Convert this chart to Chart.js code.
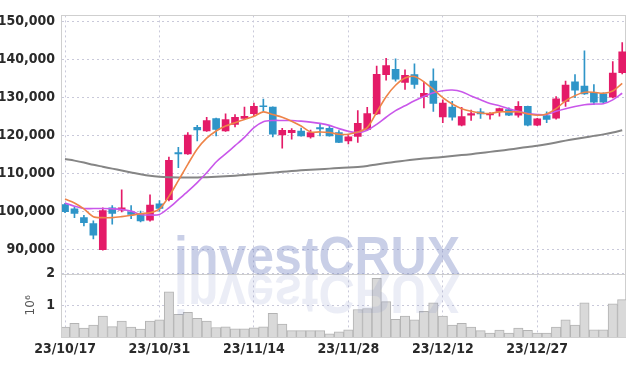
<!DOCTYPE html>
<html>
<head>
<meta charset="utf-8">
<script src="https://cdn.jsdelivr.net/npm/chart.js@4.4.1/dist/chart.umd.min.js"></script>
<style>
  html, body { margin: 0; padding: 0; background: #fff; }
</style>
</head>
<body>
<canvas id="myChart" width="634" height="366"></canvas>
<script>
// data (trading day index 0..59, 23/10/17 .. 24/01/11)
const tickIdx = [0, 10, 20, 30, 40, 50];
const tickLabels = ['23/10/17', '23/10/31', '23/11/14', '23/11/28', '23/12/12', '23/12/27'];
const priceTicks = [90000, 100000, 110000, 120000, 130000, 140000, 150000];
const volumeTicks = [1, 2]; // millions

const opens = [101850, 100750, 98420, 96870, 90000, 101000, 100400, 99970, 99270, 97730,
    102030, 103140, 115520, 115180, 122150, 121190, 124470, 121190, 122920, 124470,
    125760, 127820, 127480, 120160, 120770, 121190, 119650, 122070, 121890, 120770,
    118610, 119740, 121630, 125680, 135990, 137360, 133930, 136000, 130220, 134270,
    124910, 127480, 122740, 125330, 126200, 125420, 126350, 126790, 125330, 127640,
    122740, 125240, 124550, 128930, 134090, 132980, 131250, 130920, 130060, 136510];
const highs = [102200, 101100, 99030, 97560, 101000, 101600, 105720, 101600, 100140, 104430,
    102880, 114330, 116910, 120770, 122660, 124800, 124600, 125680, 125500, 127480,
    128520, 129540, 127500, 121890, 121800, 121980, 121400, 122920, 122460, 121300,
    120000, 126530, 127380, 138220, 140280, 140110, 137280, 138830, 134090, 137540,
    129380, 129000, 127380, 126700, 127100, 126000, 127200, 127300, 128930, 127700,
    124500, 126200, 130230, 134270, 136000, 142260, 133410, 131200, 139430, 144400];
const lows = [99700, 98420, 96270, 92820, 89900, 96690, 99900, 98160, 97300, 97500,
    100140, 102800, 111570, 115000, 118610, 121100, 119900, 121100, 122230, 124200,
    125060, 126350, 119650, 116650, 119050, 119800, 119300, 119900, 119800, 118100,
    117760, 118200, 121400, 125500, 134530, 134270, 132120, 132380, 127230, 126350,
    123360, 124000, 122500, 123950, 124500, 124300, 125060, 125200, 124800, 122500,
    122600, 123360, 124300, 127640, 129960, 130800, 128080, 128600, 129900, 136200];
const closes = [100000, 99530, 97130, 93850, 100300, 99530, 101000, 99270, 97560, 101700,
    100820, 113450, 115180, 120080, 121450, 123950, 121630, 124210, 124800, 125060,
    127640, 127560, 120340, 121370, 121370, 119900, 120770, 121710, 119900, 118200,
    119650, 123180, 125760, 136070, 138400, 134780, 135820, 133420, 131100, 128420,
    128520, 124800, 124980, 125760, 125680, 125840, 127050, 125330, 127640, 122740,
    124390, 124210, 129630, 133240, 131940, 130920, 128770, 128770, 136410, 142000];
const volumes = [0.31, 0.43, 0.28, 0.38, 0.66, 0.33, 0.50, 0.31, 0.25, 0.50,
    0.54, 1.43, 0.72, 0.78, 0.59, 0.50, 0.30, 0.32, 0.26, 0.26,
    0.29, 0.32, 0.75, 0.41, 0.20, 0.20, 0.20, 0.20, 0.10, 0.16,
    0.23, 0.87, 0.90, 1.85, 1.12, 0.56, 0.66, 0.54, 0.81, 1.08,
    0.66, 0.38, 0.43, 0.31, 0.20, 0.12, 0.22, 0.12, 0.28, 0.21,
    0.12, 0.12, 0.31, 0.54, 0.38, 1.08, 0.23, 0.23, 1.05, 1.18]; // millions
const ma5 = [103320, 102290, 100740, 98680, 98420, 98420, 98680, 99030, 99460, 99710,
    100740, 104000, 108140, 112430, 116470, 119300, 121190, 122480, 123360, 124210,
    125060, 126200, 125500, 124800, 123770, 122480, 120940, 120940, 120770, 120340,
    120340, 120900, 122070, 126100, 130200, 133200, 135100, 135500, 134100, 132120,
    129960, 128260, 127050, 126350, 125930, 125800, 126200, 126200, 126200, 125680,
    125330, 125680, 127050, 129110, 130480, 131350, 131350, 131100, 131690, 133670];
const ma20 = [102290, 101430, 100820, 100820, 100820, 100740, 100570, 100140, 99270, 99110,
    99270, 101000, 103140, 105310, 107630, 110200, 113040, 115180, 117320, 119500,
    122070, 123620, 123950, 123950, 123950, 123770, 123520, 123180, 122660, 121810,
    121100, 120770, 121370, 122920, 124800, 126530, 127820, 129110, 130220, 131250,
    131770, 131940, 131510, 130400, 129370, 128400, 127820, 127050, 126350, 125760,
    125500, 125500, 126350, 127050, 127640, 128080, 128260, 128350, 129370, 131100];
const ma60 = [113800, 113400, 112900, 112300, 111800, 111300, 110800, 110300, 109800, 109400,
    109170, 109050, 109000, 109000, 109000, 109050, 109150, 109300, 109450, 109650,
    109850, 110050, 110250, 110450, 110650, 110850, 111000, 111150, 111300, 111450,
    111570, 111750, 112000, 112400, 112750, 113100, 113400, 113700, 113950, 114150,
    114350, 114600, 114850, 115100, 115400, 115700, 116000, 116300, 116650, 117000,
    117320, 117700, 118150, 118650, 119100, 119500, 119900, 120300, 120800, 121400];

const UP = '#e41b68';
const DOWN = '#2f95c8';
const FONT = "'Liberation Sans Narrow', 'DejaVu Sans Condensed', sans-serif";
const gridColor = '#c9c9da';
const tickFont = { family: FONT, size: 14, weight: 'bold' };

const candleColors = opens.map((o, i) => closes[i] >= o ? UP : DOWN);
const xy = arr => arr.map((v, i) => ({ x: i, y: v }));

// frame + watermark
const framePlugin = {
    id: 'frame',
    beforeDatasetsDraw(chart) {
        const a = chart.chartArea, ctx = chart.ctx;
        const yTop = chart.scales.yv.top;
        ctx.save();
        ctx.strokeStyle = '#cfcfcf';
        ctx.lineWidth = 1;
        ctx.strokeRect(Math.round(a.left) - 0.5, Math.round(a.top) + 0.5, Math.round(a.right - a.left), Math.round(a.bottom - a.top));
        ctx.beginPath();
        ctx.moveTo(a.left, Math.round(yTop) + 0.5);
        ctx.lineTo(a.right, Math.round(yTop) + 0.5);
        ctx.stroke();
        ctx.restore();
    },
    afterDatasetsDraw(chart) {
        const ctx = chart.ctx;
        const cx = chart.width / 2;
        const base = chart.scales.yv.top;
        const txt = 'investCRUX';
        ctx.save();
        ctx.font = "bold 53px 'Liberation Sans', sans-serif";
        ctx.textAlign = 'center';
        ctx.textBaseline = 'alphabetic';
        const w = ctx.measureText(txt).width;
        ctx.translate(cx, base);
        ctx.scale(286 / w, 1);
        ctx.fillStyle = 'rgba(120,136,196,0.40)';
        ctx.fillText(txt, 0, 0);
        ctx.scale(1, -1.05);
        ctx.fillStyle = 'rgba(120,136,196,0.15)';
        ctx.fillText(txt, 0, -1);
        ctx.restore();
    }
};

const ctx = document.getElementById('myChart').getContext('2d');
const myChart = new Chart(ctx, {
    type: 'bar',
    data: {
        datasets: [
            { type: 'line', data: xy(ma5), borderColor: '#ee8448', borderWidth: 1.6, pointRadius: 0, tension: 0.3, yAxisID: 'y', order: 0 },
            { type: 'line', data: xy(ma20), borderColor: '#c957ea', borderWidth: 1.6, pointRadius: 0, tension: 0.3, yAxisID: 'y', order: 0 },
            { type: 'line', data: xy(ma60), borderColor: '#858585', borderWidth: 2, pointRadius: 0, tension: 0.3, yAxisID: 'y', order: 0 },
            // bodies
            { data: opens.map((o, i) => ({ x: i, y: [o, closes[i]] })), backgroundColor: candleColors, barThickness: 7, grouped: false, yAxisID: 'y', order: 1 },
            // wicks
            { data: lows.map((l, i) => ({ x: i, y: [l, highs[i]] })), backgroundColor: candleColors, barThickness: 1, grouped: false, yAxisID: 'y', order: 2 },
            // volume
            { data: volumes.map((v, i) => ({ x: i, y: v * 1e6 })), backgroundColor: '#d9d9d9', borderColor: '#b3b3b3', borderWidth: 1, barThickness: 9.4, grouped: false, yAxisID: 'yv', order: 3 },
        ]
    },
    options: {
        responsive: false,
        animation: false,
        events: [],
        layout: { padding: { top: 9, right: 8, left: 0, bottom: 0 } },
        plugins: { legend: { display: false }, tooltip: { enabled: false } },
        scales: {
            x: {
                type: 'linear', min: -0.32, max: 59.4, offset: false,
                grid: { color: gridColor, drawTicks: false, offset: false },
                border: { display: false, dash: [2, 3] },
                ticks: {
                    autoSkip: false, maxRotation: 0, padding: 4,
                    color: '#2a2a2a', font: tickFont,
                    callback: v => { const k = tickIdx.indexOf(v); return k >= 0 ? tickLabels[k] : ''; }
                },
                afterBuildTicks: s => { s.ticks = tickIdx.map(v => ({ value: v })); },
                afterFit: s => { s.height = 29; }
            },
            yv: {
                position: 'left', stack: 'panels', stackWeight: 1,
                min: 0, max: 2e6,
                grid: { color: gridColor, drawTicks: false },
                border: { display: false, dash: [2, 3] },
                ticks: {
                    padding: 7, color: '#2a2a2a', font: tickFont,
                    callback: v => String(v / 1e6)
                },
                afterBuildTicks: s => { s.ticks = volumeTicks.map(v => ({ value: v * 1e6 })); },
                title: { display: true, text: '10⁶', color: '#555', font: { family: "'DejaVu Sans', sans-serif", size: 12 }, padding: { top: 24, bottom: 0 } },
                afterFit: s => { s.width = 62; }
            },
            y: {
                position: 'left', stack: 'panels', stackWeight: 4.08,
                min: 83700, max: 151550,
                grid: { color: gridColor, drawTicks: false },
                border: { display: false, dash: [2, 3] },
                ticks: {
                    padding: 7, color: '#2a2a2a', font: tickFont,
                    callback: v => v.toLocaleString('en-US')
                },
                afterBuildTicks: s => { s.ticks = priceTicks.map(v => ({ value: v })); },
                afterFit: s => { s.width = 62; }
            }
        }
    },
    plugins: [framePlugin]
});
</script>
</body>
</html>
